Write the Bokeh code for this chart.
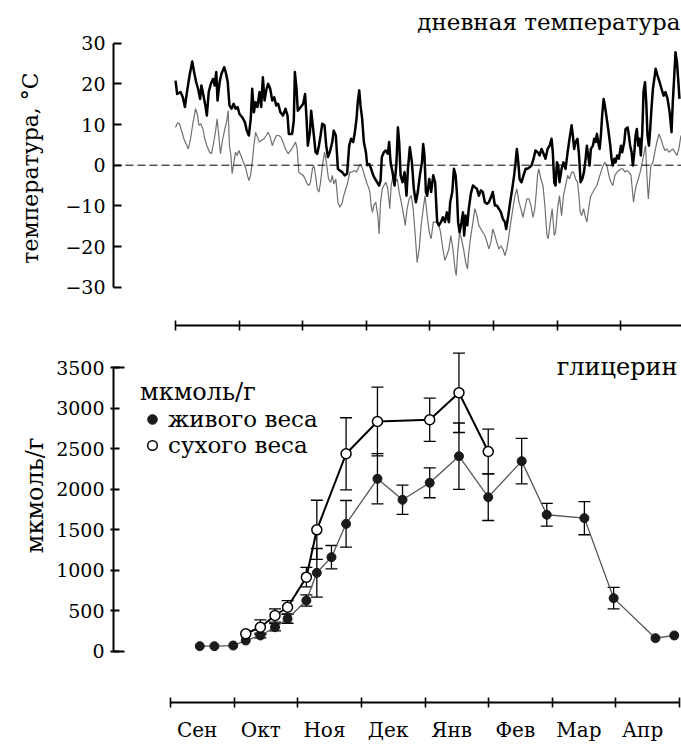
from bokeh.plotting import figure
from bokeh.models import (ColumnDataSource, FixedTicker, LinearAxis, Range1d, Span,
                          Label, Title, Whisker, TeeHead, Legend, LegendItem)
from bokeh.layouts import column
from bokeh.embed import file_html
from bokeh.resources import INLINE

FONT = "DejaVu Serif"
MONTH_DAYS = 30.4375

month_names = ["Сен", "Окт", "Ноя", "Дек", "Янв", "Фев", "Мар", "Апр"]

# ---- daily temperature (day of season from 1 Sep), upper (bold) curve ----
t_hi_day = [0.0, 0.8, 2.4, 3.5, 4.5, 5.6, 6.7, 8.0, 8.9, 9.9, 10.8, 11.8, 12.4, 13.4, 14.4, 15.0,
            15.9, 16.9, 17.9, 18.7, 19.5, 20.1, 21.1, 22.0, 23.3, 24.2, 25.0, 25.8, 26.8, 27.8,
            28.7, 29.7, 30.6, 31.9, 33.2, 34.1, 35.1, 36.0, 36.7, 37.5, 38.3, 39.2, 40.2, 41.0,
            41.8, 42.6, 43.4, 44.3, 45.3, 46.3, 47.2, 48.2, 49.1, 50.2, 51.4, 52.6, 53.6, 54.2,
            55.8, 56.6, 57.1, 57.9, 58.5, 59.3,
            61.1, 62.0, 62.7, 63.3, 64.3, 64.9, 65.5, 66.2, 67.0, 67.8, 68.6, 69.4, 70.2, 71.3,
            72.1, 72.9, 73.8, 75.0, 75.7, 76.7, 77.7, 78.6, 79.7, 80.9, 82.1, 83.1, 84.0, 85.0,
            85.8, 86.6, 87.2, 87.9, 88.5, 89.3, 90.1, 91.1, 91.7, 92.7, 93.6, 94.6, 95.5, 96.5,
            97.4, 98.1, 98.7, 99.7, 100.6, 101.6, 102.2, 102.9, 103.8, 104.8, 105.7, 106.4, 107.0,
            107.7, 108.6, 109.6, 110.5, 111.2, 112.1, 113.1, 114.0, 115.0, 115.9, 116.9, 117.9,
            118.5, 119.1, 119.8, 120.4, 121.4, 122.3, 123.3, 124.2, 125.2,
            126.0, 127.0, 127.9, 128.9, 129.8, 130.8, 131.4, 132.4, 133.2, 134.0, 134.6, 135.2,
            135.9, 136.8, 137.5, 138.1, 138.8, 139.6, 140.3, 141.3, 142.3, 143.2, 144.2, 145.1,
            146.1, 147.0, 148.0, 149.0, 149.9, 150.9, 151.8, 152.8, 153.7, 154.7, 155.7, 156.6,
            157.6, 158.2, 159.2, 160.1, 161.1, 162.0, 162.7, 163.3, 164.0, 164.6, 165.5, 166.5,
            167.5, 168.4, 169.4, 170.3, 171.3, 172.2, 173.2, 174.2, 175.1, 176.1, 177.0, 178.0,
            179.0, 179.9, 180.5, 181.2, 181.8, 182.5, 183.1, 183.7, 184.7, 185.6, 186.6, 187.6,
            188.5, 189.5,
            190.1, 190.7, 191.4, 192.3, 193.0, 193.8, 194.6, 195.4, 196.2, 196.8, 197.4, 198.1,
            198.7, 199.7, 200.3, 201.0, 201.6, 202.2, 202.9, 203.5, 204.1, 204.8, 205.4, 206.1,
            207.0, 208.0, 208.6, 209.2, 209.9, 210.5, 211.3, 212.1, 213.1, 213.7, 214.7, 215.3,
            216.3, 216.9, 217.5, 218.2, 218.8, 219.5, 220.1, 220.7, 221.4, 222.0, 222.6, 223.3,
            223.9, 224.6, 225.2, 225.8, 226.5, 227.1, 227.7, 228.4, 229.0, 229.7, 230.6, 231.6,
            232.5, 233.5, 234.4, 235.4, 236.4, 237.3, 237.9, 238.6, 239.2, 239.9, 240.5, 241.1]
t_hi = [20.8, 17.5, 18.0, 16.7, 14.3, 18.4, 22.0, 25.5, 22.9, 20.4, 18.8, 16.3, 19.6, 17.1, 14.3, 12.2,
        18.0, 20.0, 21.2, 19.6, 22.9, 15.9, 20.4, 22.5, 24.1, 22.5, 20.4, 14.7, 13.9, 15.1,
        13.9, 14.3, 12.6, 11.8, 10.6, 8.5, 7.3, 11.4, 18.8, 13.0, 15.5, 14.3, 18.0, 14.3,
        21.6, 15.9, 18.4, 20.0, 18.8, 15.9, 16.7, 14.7, 15.1, 13.0, 12.2, 13.9, 12.2, 7.7,
        7.7, 11.0, 22.9, 18.8, 13.4, 13.9,
        15.1, 17.5, 11.4, 4.8, 8.1, 13.4, 10.6, 7.3, 3.2, 2.8, 4.8, 7.3, 10.2, 9.8,
        4.8, 2.0, 3.2, 5.7, 8.5, 7.3, -0.9, -1.3, -1.7, -2.5, -2.1, 4.8, 6.5, 5.7,
        8.1, 11.4, 15.5, 18.4, 14.7, 11.4, 5.7, 3.2, 0.0, 0.3, -0.9, -2.5, -3.4, -4.2,
        -5.0, -3.8, 2.0, 3.2, 3.6, 2.8, 5.7, 0.7, -1.7, -5.0, 0.7, 9.3, 5.7,
        -2.5, -4.2, -1.7, -7.5, -0.9, 4.4, 0.7, -5.8, -9.1, -6.6, -2.5, 0.7,
        5.2, 2.4, -6.6, -7.5, -3.4, -6.6, -2.5, -4.2, -14.0,
        -14.8, -14.0, -12.8, -14.0, -11.6, -14.0, -9.1, -6.6, -0.9, -2.5, -6.6, -14.0,
        -16.5, -14.0, -11.6, -17.3, -12.4, -14.8, -10.7, -7.0, -5.0, -5.4, -5.8, -7.5,
        -6.2, -6.6, -9.1, -9.5, -9.1, -7.9, -6.6, -9.9, -9.9, -10.7, -11.6, -13.2,
        -14.0, -15.7, -12.4, -9.1, -5.8, -2.5, 0.7, 4.0, 0.7, -3.4, -4.2, -2.5,
        -0.9, -0.9, -0.5, -0.1, 1.6, 3.6, 3.2, 2.4, 4.0, 2.8, 1.6, 4.0,
        4.8, 6.5, 3.2, -4.2, -5.0, 0.7, -0.1, -4.2, -0.9, 0.7, -0.9, 3.2,
        6.5, 9.8,
        7.3, 4.0, 5.7, 6.5, 2.8, -4.2, -3.4, -1.7, 1.6, 4.8, 2.4, -0.1,
        4.0, 4.8, 6.5, 5.7, 7.7, 5.7, 4.0, 7.3, 12.2, 16.3, 14.7, 12.2,
        8.9, 4.8, 1.6, -0.1, 1.6, 0.7, 2.4, 1.6, 4.8, 3.2, 5.7, 8.9,
        9.3, 7.3, 4.8, 3.2, -0.1, 3.2, 7.3, 8.9, 4.8, 6.5, 2.4, 8.1,
        18.0, 20.4, 15.5, 7.3, 4.8, 8.9, 13.9, 18.8, 21.0, 23.7, 22.0, 20.4,
        18.8, 17.1, 18.0, 16.3, 13.0, 8.1, 15.5, 22.0, 27.8, 25.3, 21.0, 16.3]

# ---- lower (thin) curve ----
t_lo_day = [0.0, 1.0, 1.9, 2.9, 4.0, 5.1, 6.1, 7.2, 8.3, 9.6, 10.4, 11.2, 12.1, 13.1, 14.0, 15.0,
            16.3, 17.2, 18.3, 19.1, 19.9, 20.7, 21.5, 22.6, 23.6, 24.6, 25.2, 25.8, 26.5, 27.1,
            27.9, 28.7, 29.5, 30.3, 31.3, 32.2, 33.5, 34.4, 35.1, 35.9, 36.7, 37.5, 38.3, 39.2,
            40.2, 41.1, 42.3, 43.4, 44.3, 45.3, 46.3, 47.2, 48.3, 49.4, 50.4, 51.4, 52.6, 53.9,
            55.0, 56.1, 57.4, 58.2, 59.0,
            59.8, 61.1, 62.0, 63.0, 63.8, 64.6, 65.5, 66.2, 67.0, 67.8, 68.6, 69.4, 70.3, 71.3,
            72.2, 73.2, 74.2, 75.0, 75.7, 76.7, 77.7, 78.6, 79.6, 80.5, 81.5, 82.4, 83.4, 84.5,
            85.6, 86.6, 87.6, 88.5, 89.5, 90.4, 91.4, 92.3, 93.0, 93.6, 94.2, 94.9, 95.8, 96.8,
            97.4, 98.1, 98.9, 99.7, 100.6, 101.6, 102.5, 103.2, 104.1, 105.1, 106.1, 107.0, 108.0,
            108.9, 109.9, 110.8, 111.8, 112.8, 113.7, 114.7, 115.6, 116.6, 117.5, 118.5, 119.4,
            120.4, 121.4, 122.3, 123.3,
            125.7, 126.8, 127.9, 128.9, 129.8, 130.8, 131.7, 132.7, 133.7, 134.3, 134.9, 135.9,
            136.8, 137.8, 138.8, 139.7, 140.3, 141.3, 142.3, 143.2, 144.2, 145.1, 146.1, 147.0,
            148.0, 149.0, 149.9, 150.9, 151.8, 152.8, 153.7, 154.7, 155.7, 156.6, 157.6, 158.5,
            159.5, 160.4, 161.4, 162.4, 163.3, 164.3, 165.2, 166.2, 167.1, 168.1, 169.1, 170.0,
            171.0, 171.9, 172.6, 173.2, 173.8, 174.8, 175.8, 176.7, 177.7, 178.3, 179.3, 180.2,
            181.2, 181.8, 182.8, 183.7, 184.7, 185.6, 186.6, 187.6, 188.5, 189.5,
            190.4, 191.4, 192.3, 193.0, 193.6, 194.3, 195.2, 195.9, 196.8, 197.4, 198.1, 198.7,
            199.7, 200.6, 201.6, 202.5, 203.5, 204.5, 205.4, 206.4, 207.3, 208.3, 209.2, 210.2,
            211.2, 212.1, 213.1, 214.0, 215.0, 215.9, 216.9, 217.9, 218.5, 219.1, 219.8, 220.4,
            221.4, 222.3, 223.3, 224.2, 224.9, 225.5, 226.2, 226.8, 227.4, 228.4, 229.3, 230.3,
            231.3, 232.2, 233.2, 234.1, 235.1, 236.0, 237.0, 238.0, 238.9, 239.9, 240.8, 241.8]
t_lo = [9.3, 10.4, 10.2, 8.5, 6.5, 5.2, 4.0, 6.5, 10.2, 13.9, 12.6, 9.8, 10.2, 8.9, 6.5, 4.8,
        3.2, 2.8, 5.7, 8.1, 11.4, 7.3, 2.8, 6.5, 8.9, 11.0, 13.4, 4.8, 2.4, -2.1,
        0.7, 3.2, 2.4, 3.6, 2.4, 1.1, -0.5, -2.5, -3.8, -2.5, 0.7, 4.8, 8.1, 6.9,
        5.7, 6.1, 6.5, 7.3, 8.1, 6.9, 4.8, 6.1, 7.3, 7.3, 6.9, 5.7, 4.0, 2.8,
        3.6, 4.4, 5.7, 4.0, -1.7,
        -2.1, -2.5, -3.4, -4.6, -5.0, -4.2, -0.9, -0.1, -2.5, -5.8, -6.6, -4.2, -0.1, 3.2,
        0.7, -3.4, -4.2, -2.5, -4.6, -3.4, -9.1, -10.3, -9.5, -7.5, -5.8, -4.2, -1.7, -1.7,
        -1.3, -1.7, -0.5, 0.3, -0.9, -2.5, -4.2, -5.4, -6.6, -9.9, -11.6, -9.9, -9.1, -12.4,
        -16.9, -9.1, -5.8, -5.0, -4.2, -5.8, -10.7, -5.0, -2.5, -4.2, -3.4, -6.6, -9.1,
        -11.6, -14.8, -10.7, -8.3, -7.5, -10.7, -17.3, -23.9, -20.6, -14.8, -10.7, -7.5,
        -12.4, -16.5, -18.1, -14.0,
        -14.0, -16.5, -20.6, -23.4, -22.2, -20.6, -17.3, -20.6, -25.5, -27.1, -22.2, -16.5,
        -18.1, -20.6, -23.9, -25.5, -21.4, -17.3, -14.0, -10.7, -12.4, -14.8, -15.7, -16.5,
        -17.3, -18.9, -20.6, -18.9, -15.7, -17.3, -18.9, -20.6, -19.8, -20.6, -22.2, -20.6,
        -17.3, -14.0, -10.7, -7.5, -5.8, -9.1, -10.7, -12.8, -10.7, -8.3, -8.3, -9.9,
        -12.8, -10.7, -6.6, -2.5, -0.9, -3.4, -5.0, -9.9, -17.3, -18.1, -14.0, -10.7,
        -17.3, -16.5, -10.7, -7.5, -12.4, -7.5, -5.0, -2.5, -3.4, -1.7,
        -1.7, -3.4, -4.2, -7.5, -11.6, -12.4, -10.7, -12.4, -14.0, -11.6, -9.1, -7.5,
        -6.6, -5.8, -5.0, -3.4, -1.7, -0.1, 0.7, -0.1, -2.5, -4.2, -5.0, -2.5,
        -1.7, -1.3, -0.9, -0.9, -1.7, -1.3, -1.7, -2.5, -5.8, -9.1, -6.6, -5.0,
        -3.4, -1.7, 0.7, 3.2, 4.8, -2.5, -8.3, -4.2, -0.1, 0.7, 3.2, 5.7,
        7.7, 6.5, 4.8, 3.6, 4.0, 3.2, 3.6, 4.0, 3.2, 2.4, 4.0, 7.3]

# ---- glycerol, µmol/g ----
live_day = [14, 21, 30, 36, 43, 50, 56, 65, 70, 77, 84, 99, 111, 124, 138, 152, 168, 180, 198, 212, 232, 241]
live_val = [62, 62, 70, 132, 194, 296, 400, 626, 968, 1161, 1573, 2129, 1870, 2080, 2408, 1902, 2347,
            1685, 1643, 655, 161, 194]
live_err = [0, 0, 0, 0, 30, 45, 55, 70, 300, 144, 288, 310, 180, 185, 410, 288, 280, 140, 205, 133, 0, 0]

dry_day = [36, 43, 50, 56, 65, 70, 84, 99, 124, 138, 152]
dry_val = [215, 296, 441, 543, 914, 1499, 2438, 2837, 2858, 3191, 2466]
dry_err = [0, 90, 82, 82, 120, 365, 445, 424, 268, 490, 276]

month_edges = [i * MONTH_DAYS for i in range(len(month_names) + 1)]
month_label_pos = [(i + 0.42) * MONTH_DAYS for i in range(len(month_names))]
x_end = month_edges[-1]


def style_axis(ax):
    ax.major_label_text_font = FONT
    ax.major_label_text_font_size = "19px"
    ax.major_label_text_color = "black"
    ax.axis_label_text_font = FONT
    ax.axis_label_text_font_style = "normal"
    ax.axis_label_text_color = "black"
    ax.axis_line_color = "black"
    ax.major_tick_line_color = "black"
    ax.minor_tick_line_color = "black"


def month_axis(labels):
    if labels:
        ticker = FixedTicker(ticks=month_label_pos, minor_ticks=month_edges)
    else:
        ticker = FixedTicker(ticks=[], minor_ticks=month_edges)
    ax = LinearAxis(ticker=ticker, bounds=(0, x_end))
    style_axis(ax)
    if labels:
        ax.major_label_overrides = {m: n for m, n in zip(month_label_pos, month_names)}
        ax.major_label_text_font_size = "20px"
    ax.major_label_standoff = 10
    ax.axis_line_width = 2
    ax.major_tick_in = 0
    ax.major_tick_out = 0
    ax.minor_tick_in = 5
    ax.minor_tick_out = 5
    ax.minor_tick_line_width = 1.6
    return ax


# ================= top panel =================
top = figure(frame_width=571, frame_height=315,
             x_range=Range1d(-29.66, x_end), y_range=Range1d(-39.42, 38.04),
             x_axis_type=None, y_axis_type=None,
             output_backend="svg", toolbar_location=None,
             min_border_left=108, min_border_right=2, min_border_top=10, min_border_bottom=10)
top.outline_line_color = None
top.background_fill_color = "white"

yax = LinearAxis(ticker=FixedTicker(ticks=[-30, -20, -10, 0, 10, 20, 30]), bounds=(-30, 30),
                 axis_label="температура, °C",
                 major_label_overrides={-30: "−30", -20: "−20", -10: "−10"})
style_axis(yax)
yax.axis_label_text_font_size = "22px"
yax.axis_label_standoff = 19
yax.major_tick_in = 8
yax.major_tick_out = 0
yax.major_label_standoff = 8
yax.axis_line_width = 2
yax.major_tick_line_width = 2
top.add_layout(yax, "left")
top.add_layout(month_axis(False), "below")

top.add_layout(Span(location=0, dimension="width", line_color="black",
                    line_width=1, line_dash="8 4"))
top.line(t_lo_day, t_lo, line_color="#707070", line_width=1.2)
top.line(t_hi_day, t_hi, line_color="black", line_width=2.5, line_join="round")
top.add_layout(Label(x=x_end, y=35.1, x_offset=-4, text="дневная температура", text_align="right",
                     text_baseline="middle", text_font=FONT, text_font_size="23px",
                     text_color="black"))

# ================= bottom panel =================
bot = figure(frame_width=566, frame_height=351,
             x_range=Range1d(-27.27, x_end), y_range=Range1d(-633.6, 3701),
             x_axis_type=None, y_axis_type=None,
             output_backend="svg", toolbar_location=None,
             min_border_left=113, min_border_right=2, min_border_top=16, min_border_bottom=4)
bot.outline_line_color = None
bot.background_fill_color = "white"

yax2 = LinearAxis(ticker=FixedTicker(ticks=[0, 500, 1000, 1500, 2000, 2500, 3000, 3500],
                                     minor_ticks=[0, 3500]),
                  bounds=(0, 3500))
style_axis(yax2)
yax2.major_tick_in = 6
yax2.major_tick_out = 3
yax2.minor_tick_in = 11
yax2.minor_tick_out = 0
yax2.major_label_standoff = 6
yax2.axis_line_width = 2
yax2.major_tick_line_width = 2
yax2.minor_tick_line_width = 2
bot.add_layout(yax2, "left")
# y-axis title of the lower panel, placed against the 0..3500 span
bot.add_layout(Title(text="мкмоль/г", align="right", offset=86, standoff=10,
                     text_font=FONT, text_font_size="24px", text_font_style="normal",
                     text_color="black"), "left")
bot.add_layout(month_axis(True), "below")

bot.line(live_day, live_val, line_color="#555555", line_width=1.3)
bot.line(dry_day, dry_val, line_color="black", line_width=2)

wl = [(d, v, e) for d, v, e in zip(live_day, live_val, live_err) if e > 0]
wd = [(d, v, e) for d, v, e in zip(dry_day, dry_val, dry_err) if e > 0]
wsrc = ColumnDataSource(dict(
    base=[d for d, v, e in wl + wd],
    lower=[v - e for d, v, e in wl + wd],
    upper=[v + e for d, v, e in wl + wd]))
bot.add_layout(Whisker(source=wsrc, base="base", lower="lower", upper="upper",
                       line_color="black", line_width=1.3,
                       upper_head=TeeHead(size=12, line_color="black", line_width=1.3),
                       lower_head=TeeHead(size=12, line_color="black", line_width=1.3)))

r_live = bot.scatter(live_day, live_val, size=9, fill_color="#1a1a1a", line_color="#1a1a1a")
r_dry = bot.scatter(dry_day, dry_val, size=10, fill_color="white", line_color="black", line_width=1.5)

bot.add_layout(Label(x=x_end, y=3504, x_offset=-2, text="глицерин", text_align="right",
                     text_baseline="middle", text_font=FONT, text_font_size="24px",
                     text_color="black"))

leg = Legend(items=[LegendItem(label="живого веса", renderers=[r_live]),
                    LegendItem(label="сухого веса", renderers=[r_dry])],
             title="мкмоль/г", location="top_left")
leg.margin = 27
leg.padding = 0
leg.spacing = 0
leg.glyph_width = 24
leg.glyph_height = 24
leg.label_standoff = 4
leg.title_standoff = 0
leg.border_line_color = None
leg.background_fill_alpha = 0
leg.label_text_font = FONT
leg.label_text_font_size = "23px"
leg.label_text_color = "black"
leg.title_text_font = FONT
leg.title_text_font_size = "24px"
leg.title_text_font_style = "normal"
leg.title_text_color = "black"
bot.add_layout(leg)

layout = column(top, bot, spacing=0)
open("out.html", "w").write(file_html(layout, INLINE))
